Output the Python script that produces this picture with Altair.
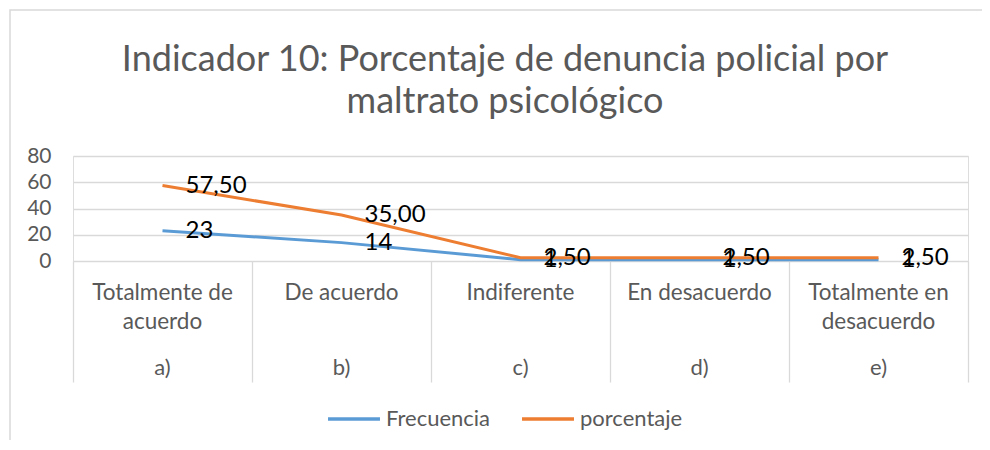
import altair as alt
import pandas as pd

categories = ["Totalmente de\nacuerdo", "De acuerdo", "Indiferente", "En desacuerdo", "Totalmente en\ndesacuerdo"]
letters = ["a)", "b)", "c)", "d)", "e)"]
frecuencia = [23, 14, 1, 1, 1]
porcentaje = [57.50, 35.00, 2.50, 2.50, 2.50]
series_names = ["Frecuencia", "porcentaje"]
colors = ["#5B9BD5", "#ED7D31"]
title_lines = ["Indicador 10: Porcentaje de denuncia policial por", "maltrato psicológico"]
y_ticks = [0, 20, 40, 60, 80]

rows = []
for i, c in enumerate(categories):
    rows.append({"cat": c, "letter": letters[i], "serie": "Frecuencia", "valor": frecuencia[i],
                 "etiqueta": f"{frecuencia[i]:d}", "orden": 0})
for i, c in enumerate(categories):
    rows.append({"cat": c, "letter": letters[i], "serie": "porcentaje", "valor": porcentaje[i],
                 "etiqueta": f"{porcentaje[i]:.2f}".replace(".", ","), "orden": 1})
df = pd.DataFrame(rows)
cats_df = pd.DataFrame({"cat": categories, "letter": letters})
title_df = pd.DataFrame({"t": ["\n".join(title_lines)]})

FONT = "Lato"
GRAY = "#595959"

xscale = alt.Scale(type="band", domain=categories, paddingInner=0, paddingOuter=0)
yscale = alt.Scale(domain=[0, 80], nice=False)
x_axis = alt.Axis(labels=False, domain=False, ticks=True, tickBand="extent",
                  tickSize=121, tickColor="#D9D9D9", tickWidth=1.3, grid=False, title=None)
y_axis = alt.Axis(values=y_ticks, tickCount=5, domain=False, ticks=False, grid=True,
                  gridColor="#D9D9D9", gridWidth=1.3, labelFont=FONT, labelFontSize=21,
                  labelColor=GRAY, labelPadding=22, labelOverlap=False, title=None)

base = alt.Chart(df)

lines = base.mark_line(strokeWidth=3).encode(
    x=alt.X("cat:N", scale=xscale, sort=categories, axis=x_axis),
    y=alt.Y("valor:Q", scale=yscale, axis=y_axis),
    color=alt.Color("serie:N", scale=alt.Scale(domain=series_names, range=colors),
                    legend=alt.Legend(orient="none", legendX=253, legendY=235, direction="horizontal",
                                      title=None, symbolType="stroke", symbolStrokeWidth=3.5,
                                      symbolSize=2700, labelFont=FONT, labelFontSize=22,
                                      labelColor=GRAY, labelOffset=4, columnPadding=24)),
    order=alt.Order("orden:Q"),
    detail="serie:N",
)

labels = base.mark_text(align="left", baseline="middle", dx=23, font=FONT, fontSize=24,
                        color="black").encode(
    x=alt.X("cat:N", scale=xscale, sort=categories, axis=x_axis),
    y=alt.Y("valor:Q", scale=yscale, axis=y_axis),
    text="etiqueta:N",
)

cat_labels = alt.Chart(cats_df).mark_text(baseline="top", font=FONT, fontSize=22.5, color=GRAY,
                                          lineBreak="\n", lineHeight=29).encode(
    x=alt.X("cat:N", scale=xscale, sort=categories, axis=x_axis),
    y=alt.value(126),
    text="cat:N",
)

letter_labels = alt.Chart(cats_df).mark_text(baseline="middle", font=FONT, fontSize=22,
                                             color=GRAY).encode(
    x=alt.X("cat:N", scale=xscale, sort=categories, axis=x_axis),
    y=alt.value(212),
    text="letter:N",
)

title = alt.Chart(title_df).mark_text(baseline="middle", align="center", font=FONT, fontSize=36,
                                      color=GRAY, lineBreak="\n", lineHeight=42).encode(
    x=alt.value(432),
    y=alt.value(-96),
    text="t:N",
)

frame = alt.Chart(alt.Data(values=[{"a": 1}])).mark_rect(fill="transparent", stroke="#D9D9D9",
                                                        strokeWidth=1.5).encode(
    x=alt.value(-63), x2=alt.value(1000), y=alt.value(-146), y2=alt.value(400),
)

chart = alt.layer(frame, title, lines, labels, cat_labels, letter_labels).properties(
    width=895,
    height=105,
    autosize=alt.AutoSizeParams(type="none"),
    padding={"left": 65, "top": 148, "right": 14, "bottom": 179},
).configure_view(stroke=None).configure(background="white")

chart.save("out.html", embed_options={"renderer": "svg", "actions": False})
